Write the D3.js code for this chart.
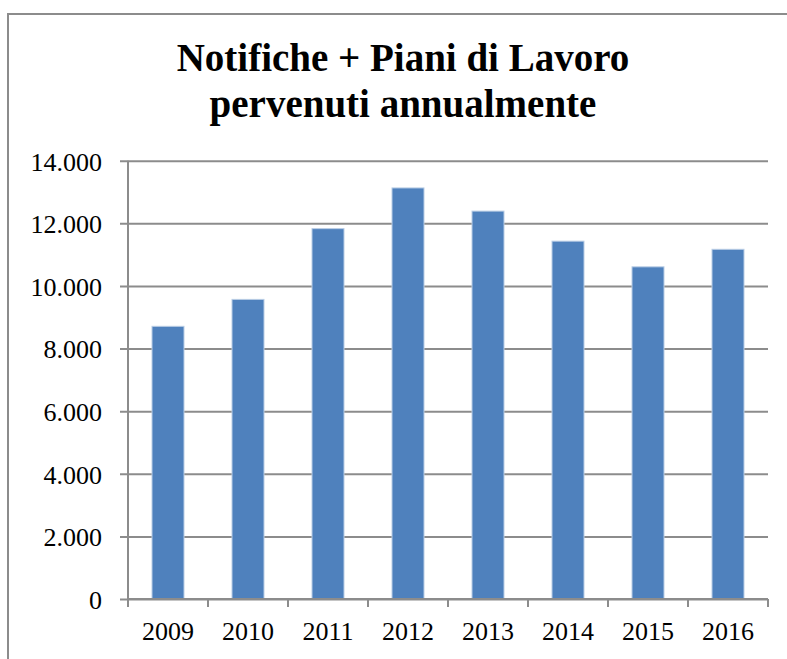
<!DOCTYPE html>
<html>
<head>
<meta charset="utf-8">
<script src="https://cdn.jsdelivr.net/npm/d3@7"></script>
<style>
  body { margin: 0; background: #fff; }
  text { font-family: "Liberation Serif", "Times New Roman", serif; }
</style>
</head>
<body>
<div class="canvas"></div>
<script>
const years = ["2009", "2010", "2011", "2012", "2013", "2014", "2015", "2016"]
const values = [8710, 9570, 11830, 13130, 12390, 11430, 10610, 11170]
const yTicks = [0, 2000, 4000, 6000, 8000, 10000, 12000, 14000]
const titleLines = ["Notifiche + Piani di Lavoro", "pervenuti annualmente"]

const width = 787
const height = 659

const svg = d3.select(".canvas")
    .append("svg")
    .attr("width", width)
    .attr("height", height)

// chart frame (runs off the right and bottom edge)
svg.append("rect")
    .attr("x", 8)
    .attr("y", 14)
    .attr("width", 800)
    .attr("height", 700)
    .attr("fill", "none")
    .attr("stroke", "#8c8c8c")
    .attr("stroke-width", 2)

const title = svg.append("text")
    .attr("x", 403)
    .attr("y", 71)
    .attr("text-anchor", "middle")
    .attr("font-size", 39)
    .attr("font-weight", "bold")
    .attr("fill", "#000")

title.selectAll("tspan")
    .data(titleLines)
    .enter()
    .append("tspan")
    .attr("x", 403)
    .attr("dy", (d, i) => i === 0 ? 0 : 46)
    .text(d => d)

const plotLeft = 128, plotRight = 768, plotTop = 160.7, plotBottom = 599

const scaleX = d3.scaleBand()
    .domain(years)
    .range([plotLeft, plotRight])
    .paddingInner(0.6)
    .paddingOuter(0.3)

const scaleY = d3.scaleLinear()
    .domain([0, 14000])
    .range([plotBottom, plotTop])

const fmt = d => d3.format(",")(d).replace(/,/g, ".")

// gridlines + y ticks
const yAxis = d3.axisLeft(scaleY)
    .tickValues(yTicks)
    .tickSize(-(plotRight - plotLeft) - 8)
    .tickPadding(18)
    .tickFormat(fmt)

const yAxisGroup = svg.append("g")
    .attr("transform", `translate(${plotLeft - 8}, 0)`)
    .call(yAxis)

yAxisGroup.select(".domain").remove()
yAxisGroup.selectAll(".tick line")
    .attr("stroke", "#8c8c8c")
    .attr("stroke-width", 2)
yAxisGroup.selectAll("text")
    .attr("x", -18)
    .attr("dy", "0.36em")
    .attr("font-size", 26)
    .attr("fill", "#000")
    .attr("font-family", "Liberation Serif, serif")

// bars
svg.selectAll("rect.bar")
    .data(values)
    .enter()
    .append("rect")
    .attr("class", "bar")
    .attr("x", (d, i) => scaleX(years[i]))
    .attr("width", scaleX.bandwidth())
    .attr("y", d => scaleY(d))
    .attr("height", d => plotBottom - scaleY(d))
    .attr("fill", "#4f81bd")
    .attr("stroke", "#b9cde5")
    .attr("stroke-width", 1)

// y axis line
svg.append("line")
    .attr("x1", plotLeft).attr("x2", plotLeft)
    .attr("y1", plotTop).attr("y2", plotBottom)
    .attr("stroke", "#8c8c8c")
    .attr("stroke-width", 2)

// x axis with ticks at category boundaries
const xAxisGroup = svg.append("g")
    .attr("transform", `translate(0, ${plotBottom})`)

xAxisGroup.append("line")
    .attr("x1", plotLeft).attr("x2", plotRight)
    .attr("stroke", "#8c8c8c")
    .attr("stroke-width", 2)

const step = scaleX.step()
xAxisGroup.selectAll("line.tk")
    .data(d3.range(years.length + 1))
    .enter()
    .append("line")
    .attr("class", "tk")
    .attr("x1", i => plotLeft + i * step)
    .attr("x2", i => plotLeft + i * step)
    .attr("y1", 0)
    .attr("y2", 8)
    .attr("stroke", "#8c8c8c")
    .attr("stroke-width", 2)

xAxisGroup.selectAll("text")
    .data(years)
    .enter()
    .append("text")
    .attr("x", d => scaleX(d) + scaleX.bandwidth() / 2)
    .attr("y", 41)
    .attr("text-anchor", "middle")
    .attr("font-size", 26)
    .attr("fill", "#000")
    .text(d => d)
</script>
</body>
</html>
